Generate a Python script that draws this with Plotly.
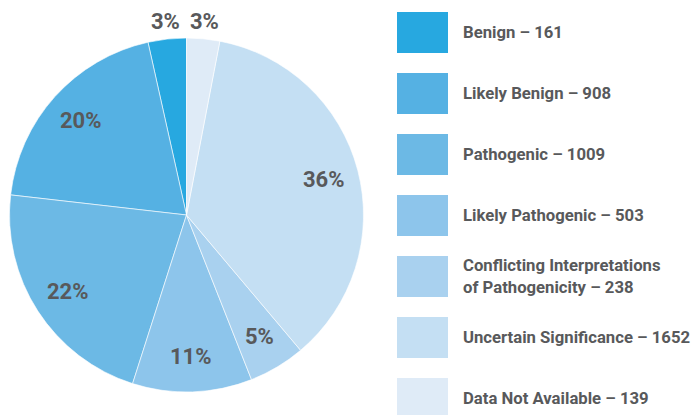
import math
import plotly.graph_objects as go

categories = ["Benign", "Likely Benign", "Pathogenic", "Likely Pathogenic",
              "Conflicting Interpretations<br>of Pathogenicity", "Uncertain Significance",
              "Data Not Available"]
counts = [161, 908, 1009, 503, 238, 1652, 139]
colors = ["#27a8e0", "#55b1e3", "#6cb9e5", "#8dc5eb", "#a9d1ef", "#c4dff3", "#dfebf7"]
label_outside = [True, False, False, False, False, False, True]

W, H = 693, 415
FONT = "Roboto, Arial, sans-serif"
TXT = "#58595b"

total = sum(counts)
CX, CY, R = 186.5, 215, 177

fig = go.Figure()
fig.add_trace(go.Pie(
    labels=categories, values=counts, sort=False, direction="counterclockwise",
    rotation=-360 * counts[0] / total,
    marker=dict(colors=colors, line=dict(color="white", width=0.6)),
    textinfo="none", showlegend=False, hoverinfo="label+value+percent",
    domain=dict(x=[(CX - R) / W, (CX + R) / W], y=[(H - (CY + R)) / H, (H - (CY - R)) / H]),
))

annotations, shapes = [], []

# percentage labels placed along each slice's bisector (slices run counter-clockwise from 12 o'clock)
cum = 0
for n, outside in zip(counts, label_outside):
    mid = (cum + n / 2) / total * 2 * math.pi
    cum += n
    f = 1.1 if outside else 0.8
    px = CX - f * R * math.sin(mid)
    py = CY - f * R * math.cos(mid)
    annotations.append(dict(xref="paper", yref="paper", x=px / W, y=1 - py / H,
                            xanchor="center", yanchor="middle", showarrow=False,
                            text=f"{round(100 * n / total)}%",
                            font=dict(family=FONT, size=22, color=TXT, weight="bold")))

# custom legend: large swatches with bold labels
box_x0, box_x1, text_x = 397, 448, 461
top0, box_h, step = 12, 41, 61
for i, (cat, n, c) in enumerate(zip(categories, counts, colors)):
    y0 = top0 + i * step
    y1 = y0 + box_h
    shapes.append(dict(type="rect", xref="paper", yref="paper",
                       x0=box_x0 / W, x1=box_x1 / W, y0=1 - y1 / H, y1=1 - y0 / H,
                       fillcolor=c, line=dict(width=0), layer="above"))
    annotations.append(dict(xref="paper", yref="paper", x=text_x / W, y=1 - (y0 + box_h / 2) / H,
                            xanchor="left", yanchor="middle", showarrow=False, align="left",
                            text=f"{cat} – {n}",
                            font=dict(family=FONT, size=16.7, color=TXT, weight="bold")))

fig.update_layout(width=W, height=H, margin=dict(l=0, r=0, t=0, b=0),
                  paper_bgcolor="white", plot_bgcolor="white",
                  shapes=shapes, annotations=annotations)
fig.write_html("out.html", config={"displayModeBar": False},
               post_script="document.body.style.margin='0';document.body.style.overflow='hidden';")
